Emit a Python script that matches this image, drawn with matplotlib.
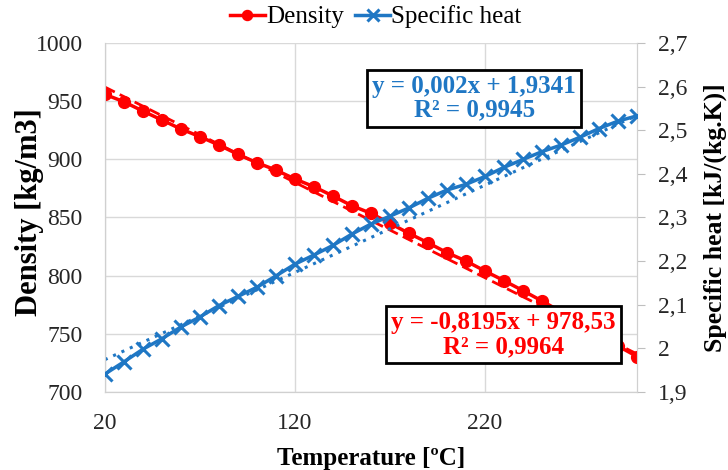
import numpy as np
import matplotlib
matplotlib.use("Agg")
import matplotlib.pyplot as plt

plt.rcParams["font.family"] = ["Liberation Serif", "DejaVu Serif"]

temperature = list(range(20, 301, 10))
density = [955.9, 949.5, 941.5, 933.8, 926.1, 919.5, 912.3, 904.3, 897.1, 890.8,
           883.1, 876.5, 868.5, 860.1, 853.6, 845.0, 836.4, 828.3, 819.8, 812.6,
           804.0, 795.7, 787.1, 778.2, 769.0, 759.5, 749.5, 739.5, 730.5]
specific_heat = [1.941, 1.969, 1.998, 2.022, 2.049, 2.072, 2.098, 2.119, 2.140, 2.166,
                 2.193, 2.214, 2.236, 2.262, 2.285, 2.303, 2.322, 2.344, 2.363, 2.376,
                 2.394, 2.415, 2.433, 2.451, 2.466, 2.484, 2.504, 2.521, 2.533]

# trendline coefficients as printed on the chart
dens_slope, dens_icpt = -0.8195, 978.53
cp_slope, cp_icpt = 0.002, 1.9341

red = "#ff0000"
blue = "#1f77c4"
txt = "#262626"

fig = plt.figure(figsize=(7.28, 4.70), dpi=100)
ax = fig.add_axes([0.144, 0.166, 0.731, 0.7425])
ax2 = ax.twinx()

t = np.array(temperature)
ax.plot(t, dens_slope * t + dens_icpt, color=red, lw=2, ls=(0, (4, 2)), zorder=2)
ax.plot(temperature, density, color=red, lw=2.5, marker="o", ms=8.5, zorder=3,
        label="Density")
ax2.plot(t, cp_slope * t + cp_icpt, color=blue, lw=2.2, ls=(0, (1, 2)), zorder=2)
ax2.plot(temperature, specific_heat, color=blue, lw=2.5, marker="x", ms=10, mew=2.2,
         zorder=3, label="Specific heat")

ax.set_xlim(20, 300)
ax.set_ylim(700, 1000)
ax2.set_ylim(1.9, 2.7)
ax.set_xticks([20, 120, 220])
ax.set_yticks(range(700, 1001, 50))
cp_ticks = np.round(np.arange(1.9, 2.71, 0.1), 1)
ax2.set_yticks(cp_ticks)
ax2.set_yticklabels([f"{v:g}".replace(".", ",") for v in cp_ticks])

ax.grid(True, color="#d9d9d9", lw=1)
ax.set_axisbelow(True)
for a in (ax, ax2):
    for s in a.spines.values():
        s.set_color("#d0d0d0")
    a.spines["top"].set_visible(False)
ax.tick_params(axis="both", length=0, labelsize=17, colors=txt)
ax.tick_params(axis="x", pad=15)
ax.tick_params(axis="y", pad=16)
ax2.tick_params(axis="y", length=6, color="#bfbfbf", labelsize=17, labelcolor=txt, pad=9)

ax.set_xlabel("Temperature [ºC]", fontsize=18, fontweight="bold", va="center")
ax.xaxis.set_label_coords(0.5, -0.19)
ax.set_ylabel("Density [kg/m3]", fontsize=22, fontweight="bold", va="center")
ax.yaxis.set_label_coords(-0.141, 0.514)
ax2.set_ylabel("Specific heat [kJ/(kg.K)]", fontsize=18.5, fontweight="bold", va="center")
ax2.yaxis.set_label_coords(1.147, 0.499)

ax2.text(0.694, 0.842, "y = 0,002x + 1,9341\nR² = 0,9945", transform=ax.transAxes,
         ha="center", va="center", color=blue, fontsize=18, fontweight="bold",
         linespacing=1.05,
         bbox=dict(boxstyle="square,pad=0.2", fc="white", ec="black", lw=2), zorder=5)
ax2.text(0.749, 0.165, "y = -0,8195x + 978,53\nR² = 0,9964", transform=ax.transAxes,
         ha="center", va="center", color=red, fontsize=18, fontweight="bold",
         linespacing=1.05,
         bbox=dict(boxstyle="square,pad=0.2", fc="white", ec="black", lw=2), zorder=5)

h1, l1 = ax.get_legend_handles_labels()
h2, l2 = ax2.get_legend_handles_labels()
fig.legend(h1 + h2, l1 + l2, loc="center", bbox_to_anchor=(0.516, 0.964), ncol=2,
           frameon=False, fontsize=18, handlelength=1.4, handletextpad=0.05,
           columnspacing=0.45, markerscale=0.85, borderpad=0)

fig.savefig("out.png", dpi=100)
